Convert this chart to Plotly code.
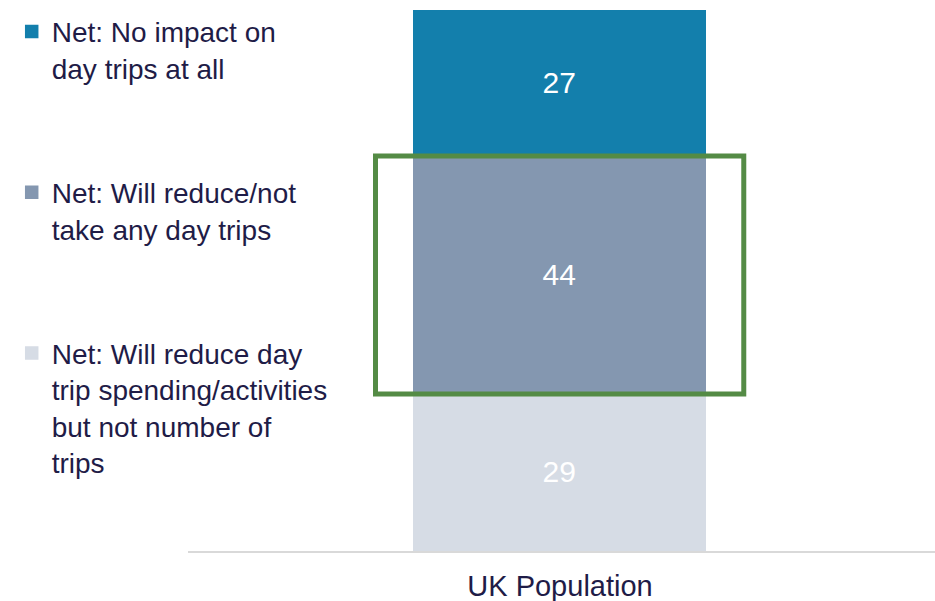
import plotly.graph_objects as go

# Share of respondents by expected impact on day trips (%)
categories = ["UK Population"]
series_names = [
    "Net: Will reduce day<br>trip spending/activities<br>but not number of<br>trips",
    "Net: Will reduce/not<br>take any day trips",
    "Net: No impact on<br>day trips at all",
]
series_values = [
    [29],
    [44],
    [27],
]
series_colors = ["#D6DCE5", "#8497B0", "#137FAC"]
legend_ranks = [3, 2, 1]

TEXT_COLOR = "#1F1C47"
FONT = "Liberation Sans, Arial, sans-serif"

fig = go.Figure()
for i, (name, vals, col) in enumerate(zip(series_names, series_values, series_colors)):
    fig.add_trace(go.Bar(
        x=categories,
        y=vals,
        name=name,
        legendgroup=f"g{i}",
        legendrank=legend_ranks[i],
        marker=dict(color=col, line=dict(width=1.5, color=col)),
        width=0.39,
        text=vals,
        texttemplate="%{text}",
        textposition="inside",
        insidetextanchor="middle",
        textangle=0,
        textfont=dict(color="white", size=30, family=FONT),
        hoverinfo="skip",
    ))

# Highlight box around the "will reduce/not take any day trips" segment
seg_low = series_values[0][0]
seg_high = series_values[0][0] + series_values[1][0]
fig.add_shape(
    type="rect", xref="x", yref="y",
    x0=-0.247, x1=0.246, y0=seg_low, y1=seg_high,
    line=dict(color="#548B45", width=5),
    fillcolor="rgba(0,0,0,0)",
    layer="above",
)

fig.update_layout(
    width=935, height=601,
    margin=dict(l=188, r=0, t=10, b=50),
    barmode="stack",
    bargap=0,
    paper_bgcolor="white",
    plot_bgcolor="white",
    font=dict(family=FONT, color=TEXT_COLOR, size=28),
    showlegend=True,
    legend=dict(
        x=-0.236, xanchor="left",
        y=1.006, yanchor="top",
        maxheight=601,
        traceorder="grouped",
        tracegroupgap=85,
        valign="top",
        font=dict(size=28, color=TEXT_COLOR, family=FONT),
        bgcolor="rgba(0,0,0,0)",
        itemclick=False, itemdoubleclick=False,
    ),
    xaxis=dict(
        type="category",
        range=[-0.498, 0.502],
        showline=True, linecolor="#D9D9D9", linewidth=2,
        showgrid=False, zeroline=False,
        ticks="", ticklabelstandoff=8,
        tickfont=dict(size=29, color=TEXT_COLOR, family=FONT),
        fixedrange=True,
    ),
    yaxis=dict(
        range=[0, 100],
        visible=False, showgrid=False, zeroline=False,
        fixedrange=True,
    ),
)

fig.write_html("out.html")
